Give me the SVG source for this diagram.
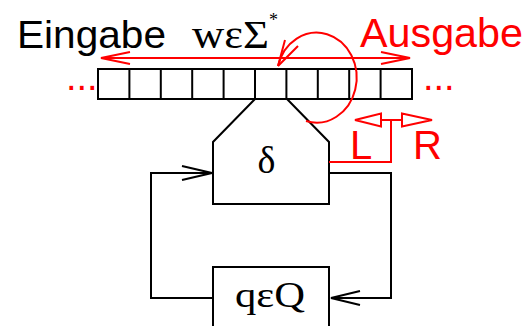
<svg xmlns="http://www.w3.org/2000/svg" width="528" height="326" viewBox="0 0 528 326">
<style>
.blk{fill:none;stroke:#000;stroke-width:2}
.red{fill:none;stroke:#f00;stroke-width:2}
.sans{font-family:"Liberation Sans",Arial,sans-serif}
.serif{font-family:"Liberation Serif","Times New Roman",serif}
</style>
<rect width="528" height="326" fill="#fff"/>
<g id="labels">
<text class="sans" x="17" y="48" font-size="39" textLength="149" lengthAdjust="spacingAndGlyphs">Eingabe</text>
<text class="serif" x="192" y="48" font-size="40" textLength="77" lengthAdjust="spacingAndGlyphs">wεΣ</text>
<text class="serif" x="269" y="26" font-size="18">*</text>
<text class="sans" x="360" y="47" font-size="41" fill="#f00" textLength="163" lengthAdjust="spacingAndGlyphs">Ausgabe</text>
<text class="sans" x="66" y="90" font-size="38" fill="#f00">...</text>
<text class="sans" x="423" y="90" font-size="38" fill="#f00">...</text>
</g>
<g id="tape">
<rect class="blk" x="98" y="69" width="314" height="30"/>
<path class="blk" d="M129.4 69V99M160.8 69V99M192.2 69V99M223.6 69V99M255 69V99M286.4 69V99M317.8 69V99M349.2 69V99M380.6 69V99"/>
</g>
<g id="delta">
<path class="blk" d="M255 99L213 142V204H329V142L287 99"/>
<text class="serif" x="266.5" y="173" font-size="38" text-anchor="middle">δ</text>
</g>
<g id="state">
<rect class="blk" x="213" y="267" width="116" height="70"/>
<text class="serif" x="235" y="307" font-size="36" textLength="70" lengthAdjust="spacingAndGlyphs">qεQ</text>
</g>
<g id="move">
<text class="sans" x="350" y="159" font-size="40" fill="#f00">L</text>
<text class="sans" x="413" y="159" font-size="40" fill="#f00">R</text>
</g>
<g id="connectors">
<path class="red" d="M101 58H410M130 52L101 58L130 64M381 52L410 58L381 64"/>
<path class="red" d="M278 66A40 45 0 1 1 306 121"/>
<path class="red" d="M278 66L285 40M278 66L298 46"/>
<path class="red" d="M329 162H391V120M381 120H402"/>
<path class="red" d="M355 120L381 113.5V126.5ZM432 120L402 113.5V126.5Z"/>
<path class="blk" d="M329 173H391V298H331M360 291L331 298L360 305"/>
<path class="blk" d="M213 298H151V173H212M182 166L212 173L182 180"/>
</g>
</svg>
